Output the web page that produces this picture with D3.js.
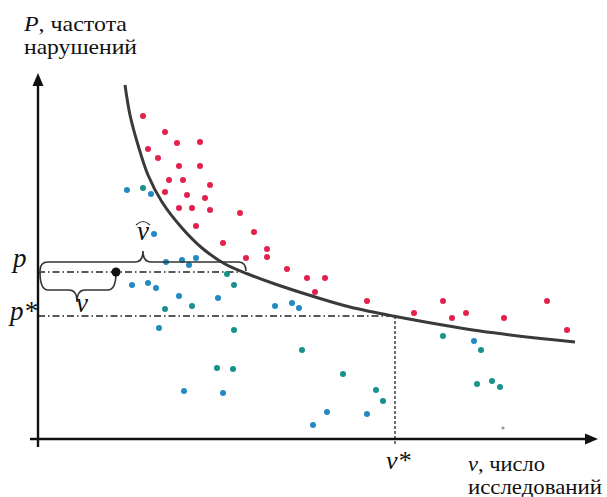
<!DOCTYPE html>
<html>
<head>
<meta charset="utf-8">
<script src="https://cdn.jsdelivr.net/npm/d3@7"></script>
<style>
  body { margin: 0; background: #fff; }
</style>
</head>
<body>
<svg id="chart" width="607" height="497"></svg>
<script>
// points (x = число исследований, y = частота нарушений)
var redPoints = [
  [10.5, 32.3], [12.7, 30.7], [13.9, 29.6], [16.2, 29.7], [11.0, 29.0], [12.0, 28.1],
  [14.1, 27.3], [16.2, 27.3], [13.1, 25.9], [14.5, 25.9], [17.2, 25.4], [12.7, 24.7],
  [14.9, 24.4], [16.7, 24.1], [14.1, 23.1], [15.4, 23.1], [17.2, 22.9], [20.2, 22.6],
  [15.8, 21.3], [21.6, 20.7], [18.5, 19.6], [22.9, 19.0], [22.9, 18.2], [20.8, 18.1],
  [24.9, 17.0], [26.9, 16.1], [28.7, 16.1], [27.7, 14.7], [32.9, 13.8], [40.5, 13.8],
  [37.6, 12.6], [41.4, 12.1], [42.8, 12.6], [46.6, 12.1], [50.9, 13.8], [52.9, 10.9]
];
var bluePoints = [
  [8.9, 24.9], [11.3, 24.5], [11.6, 20.5], [12.8, 17.7], [14.4, 17.9], [15.1, 17.4],
  [15.8, 18.1], [9.4, 15.4], [11.0, 15.6], [11.8, 15.1], [14.1, 14.3], [18.0, 14.1],
  [12.1, 11.1], [23.7, 13.3], [25.4, 13.6], [26.1, 13.1], [14.6, 4.8], [18.5, 4.6],
  [28.9, 2.7], [27.5, 1.4], [32.9, 2.5], [43.6, 9.8]
];
var tealPoints = [
  [10.5, 25.1], [18.9, 16.5], [19.6, 15.4], [12.7, 13.0], [15.4, 13.3], [19.6, 10.9],
  [26.4, 8.9], [17.9, 7.1], [19.5, 7.0], [30.5, 6.5], [33.8, 4.9], [34.5, 3.8],
  [40.5, 10.3], [44.3, 8.9], [43.9, 5.5], [45.4, 5.8], [46.2, 5.2]
];
var greyPoints = [[46.5, 1.1]];

// boundary curve
var curvePoints = [
  [8.7, 35.4], [9.2, 32.4], [10.0, 29.4], [11.0, 26.4], [12.4, 23.7], [14.4, 21.1],
  [16.4, 19.1], [18.7, 17.5], [21.0, 16.5], [23.7, 15.5], [27.4, 14.3], [31.2, 13.2],
  [35.5, 12.3], [44.2, 10.8], [53.7, 9.7]
];

var pValue = 16.7;      // p
var pStar = 12.3;       // p*
var vStar = 35.7;       // v*
var vPoint = 7.8;       // v (black dot)
var vHatEnd = 20.8;     // end of the v-hat brace

var svg = d3.select('#chart');

var x = d3.scaleLinear().domain([0, 56]).range([38, 598]);
var y = d3.scaleLinear().domain([0, 36.6]).range([439, 73]);

var dashDot = '7,3,1.5,3';

// dash-dot guide lines
svg.append('line')
  .attr('x1', x(0)).attr('x2', x(vHatEnd) - 4)
  .attr('y1', y(pValue)).attr('y2', y(pValue))
  .attr('stroke', '#222').attr('stroke-width', 1.3)
  .attr('stroke-dasharray', dashDot);
svg.append('line')
  .attr('x1', x(0)).attr('x2', x(vStar))
  .attr('y1', y(pStar)).attr('y2', y(pStar))
  .attr('stroke', '#222').attr('stroke-width', 1.3)
  .attr('stroke-dasharray', dashDot);
svg.append('line')
  .attr('x1', x(vStar)).attr('x2', x(vStar))
  .attr('y1', y(pStar)).attr('y2', y(0) + 5)
  .attr('stroke', '#222').attr('stroke-width', 1.3)
  .attr('stroke-dasharray', '3,2');

// scatter
function dots(data, color, r) {
  svg.append('g').selectAll('circle')
    .data(data).enter().append('circle')
    .attr('cx', function(d) { return x(d[0]); })
    .attr('cy', function(d) { return y(d[1]); })
    .attr('r', r)
    .attr('fill', color);
}
dots(redPoints, '#e3224b', 3);
dots(bluePoints, '#2389c2', 3);
dots(tealPoints, '#16918c', 3);
dots(greyPoints, '#999', 1.6);

// curve
var line = d3.line()
  .x(function(d) { return x(d[0]); })
  .y(function(d) { return y(d[1]); })
  .curve(d3.curveCatmullRom.alpha(0.5));
svg.append('path')
  .datum(curvePoints)
  .attr('d', line)
  .attr('fill', 'none')
  .attr('stroke', '#3a3a3a')
  .attr('stroke-width', 3);

// curly braces, dir = -1 up, +1 down
function brace(x1, x2, xm, y0, dir, a, b) {
  var y1 = y0 + dir * a, tip = y1 + dir * b, r = 8;
  var d = 'M' + x1 + ',' + y0 +
    ' Q' + x1 + ',' + y1 + ' ' + (x1 + r) + ',' + y1 +
    ' L' + (xm - r) + ',' + y1 +
    ' Q' + xm + ',' + y1 + ' ' + xm + ',' + tip +
    ' Q' + xm + ',' + y1 + ' ' + (xm + r) + ',' + y1 +
    ' L' + (x2 - r) + ',' + y1 +
    ' Q' + x2 + ',' + y1 + ' ' + x2 + ',' + y0;
  svg.append('path').attr('d', d)
    .attr('fill', 'none').attr('stroke', '#333').attr('stroke-width', 1.6);
}
brace(x(0.2), x(vHatEnd), 143, y(pValue) - 1, -1, 9, 11);
brace(x(0.2), x(vPoint), 77, y(pValue), 1, 18, 12);

// hat over v
svg.append('path')
  .attr('d', 'M136,225 Q143,218 150,225')
  .attr('fill', 'none').attr('stroke', '#333').attr('stroke-width', 1.1);

// black point
svg.append('circle')
  .attr('cx', x(vPoint)).attr('cy', y(pValue))
  .attr('r', 4.5).attr('fill', '#111');

// axes
var x0 = x(0), y0 = y(0), xEnd = x(56), yEnd = y(36.6);
svg.append('line')
  .attr('x1', x(-0.8)).attr('x2', xEnd - 6)
  .attr('y1', y0).attr('y2', y0)
  .attr('stroke', '#111').attr('stroke-width', 2.4);
svg.append('line')
  .attr('x1', x0).attr('x2', x0)
  .attr('y1', y(-0.8)).attr('y2', yEnd + 6)
  .attr('stroke', '#111').attr('stroke-width', 2.4);
svg.append('path')
  .attr('d', 'M' + xEnd + ',' + y0 + ' L' + (xEnd - 13) + ',' + (y0 - 5.5) + ' L' + (xEnd - 13) + ',' + (y0 + 5.5) + ' Z')
  .attr('fill', '#111');
svg.append('path')
  .attr('d', 'M' + x0 + ',' + yEnd + ' L' + (x0 - 5.5) + ',' + (yEnd + 13) + ' L' + (x0 + 5.5) + ',' + (yEnd + 13) + ' Z')
  .attr('fill', '#111');

// labels
function label(tx, ty, size, str, italic) {
  var t = svg.append('text').attr('x', tx).attr('y', ty)
    .style('font-family', 'Liberation Serif')
    .attr('font-size', size).attr('fill', '#111');
  if (italic) t.style('font-style', 'italic');
  return t.text(str);
}
var big = 22;
var t1 = label(24, 31, big, '', false)
  .attr('textLength', 103).attr('lengthAdjust', 'spacingAndGlyphs');
t1.append('tspan').style('font-style', 'italic').text('P');
t1.append('tspan').text(', частота');
label(24, 54, big, 'нарушений', false)
  .attr('textLength', 113).attr('lengthAdjust', 'spacingAndGlyphs');
var t2 = label(468, 471, big, '', false)
  .attr('textLength', 77).attr('lengthAdjust', 'spacingAndGlyphs');
t2.append('tspan').style('font-style', 'italic').text('v');
t2.append('tspan').text(', число');
label(468, 494, big, 'исследований', false)
  .attr('textLength', 134).attr('lengthAdjust', 'spacingAndGlyphs');
label(386, 469, 26, 'v*', true);
label(13, 267, 27, 'p', true);
label(10, 320, 27, 'p*', true);
label(76, 312, 27, 'v', true);
label(137, 240, 27, 'v', true);
</script>
</body>
</html>
